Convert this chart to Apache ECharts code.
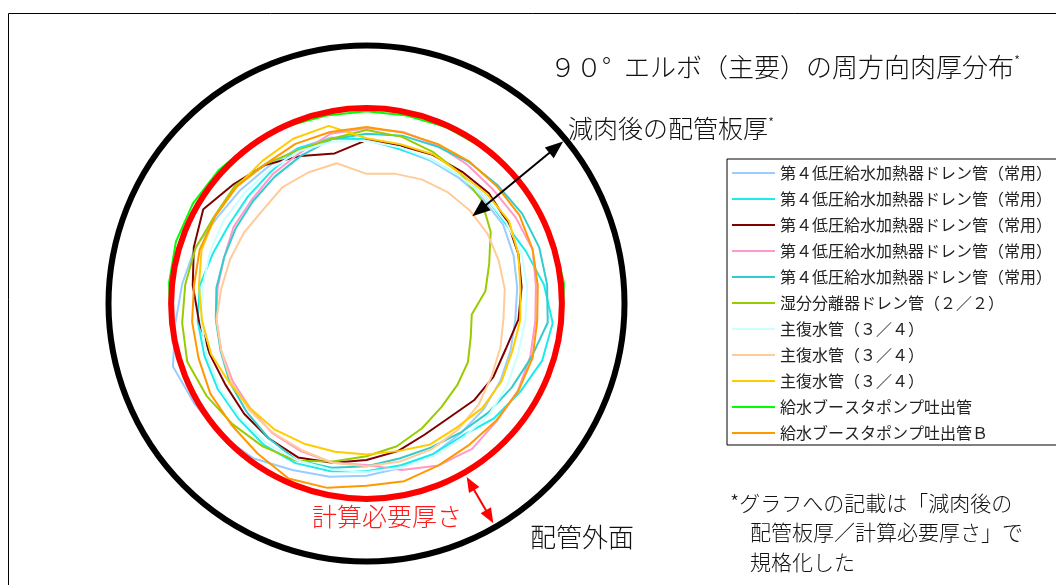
<!DOCTYPE html>
<html><head><meta charset="utf-8">
<script src="https://cdn.jsdelivr.net/npm/echarts@6/dist/echarts.min.js"></script>
<style>html,body{margin:0;padding:0;background:#fff}#c{width:1056px;height:585px}</style>
</head><body><div id="c"></div>
<script>
// Angle of each measuring point around the circumference (degrees, clockwise from top)
const angles = [0,12,24,36,48,60,72,84,96,108,120,132,144,156,168,180,192,204,216,228,240,252,264,276,288,300,312,324,336,348];

const seriesNames = [
  '第４低圧給水加熱器ドレン管（常用）',
  '第４低圧給水加熱器ドレン管（常用）',
  '第４低圧給水加熱器ドレン管（常用）',
  '第４低圧給水加熱器ドレン管（常用）',
  '第４低圧給水加熱器ドレン管（常用）',
  '湿分分離器ドレン管（２／２）',
  '主復水管（３／４）',
  '主復水管（３／４）',
  '主復水管（３／４）',
  '給水ブースタポンプ吐出管',
  '給水ブースタポンプ吐出管Ｂ'
];
const seriesColors = ['#99CCFF','#1AEBEB','#800000','#FF99CC','#33CCCC','#99CC00','#CCFFFF','#FFCC99','#FFCC00','#00FF00','#FF9900'];

// Normalized thickness (thickness after wall thinning / required thickness) at each angle
const lp1  = [1.51,1.60,1.62,1.63,1.62,1.60,1.65,1.70,1.73,1.70,1.65,1.60,1.56,1.49,1.44,1.37,1.29,1.21,1.06,0.98,0.94,0.87,1.05,1.16,1.24,1.37,1.41,1.43,1.41,1.41];
const lp2  = [1.49,1.60,1.60,1.60,1.57,1.56,1.44,1.27,1.13,1.17,1.29,1.38,1.51,1.49,1.48,1.44,1.38,1.33,1.33,1.37,1.38,1.40,1.41,1.44,1.54,1.59,1.57,1.52,1.41,1.43];
const lp3  = [1.51,1.54,1.52,1.52,1.49,1.52,1.57,1.63,1.68,1.78,1.78,1.81,1.87,1.83,1.71,1.62,1.52,1.43,1.46,1.49,1.52,1.49,1.43,1.33,1.22,1.11,1.27,1.38,1.54,1.67];
const lp4  = [1.32,1.32,1.35,1.38,1.40,1.37,1.33,1.40,1.41,1.37,1.33,1.32,1.25,1.29,1.40,1.54,1.52,1.54,1.56,1.62,1.65,1.68,1.71,1.73,1.73,1.67,1.65,1.57,1.49,1.35];
const lp5  = [1.41,1.38,1.37,1.33,1.30,1.25,1.22,1.22,1.21,1.35,1.44,1.51,1.57,1.60,1.59,1.52,1.44,1.38,1.46,1.54,1.60,1.67,1.70,1.71,1.73,1.71,1.68,1.62,1.54,1.44];
const msd  = [1.35,1.40,1.48,1.56,1.65,1.83,2.06,2.21,2.43,2.37,2.25,2.17,2.08,1.94,1.79,1.68,1.54,1.37,1.30,1.24,1.17,1.11,1.16,1.21,1.25,1.32,1.30,1.37,1.44,1.43];
const mc1  = [1.52,1.57,1.60,1.60,1.57,1.54,1.52,1.54,1.57,1.57,1.52,1.48,1.48,1.46,1.44,1.43,1.41,1.38,1.38,1.40,1.41,1.44,1.46,1.49,1.49,1.48,1.49,1.48,1.46,1.48];
const mc2  = [2.05,2.00,1.95,1.92,1.90,1.89,1.90,1.90,1.92,1.87,1.81,1.71,1.63,1.57,1.54,1.52,1.52,1.56,1.57,1.59,1.62,1.68,1.71,1.79,1.83,1.86,1.89,1.83,1.83,1.83];
const mc3  = [1.48,1.52,1.51,1.56,1.52,1.49,1.57,1.65,1.65,1.67,1.63,1.63,1.67,1.65,1.71,1.71,1.70,1.67,1.63,1.62,1.59,1.51,1.48,1.43,1.35,1.33,1.33,1.30,1.24,1.22];
const fwb  = [1.05,1.05,1.03,1.02,1.00,0.98,0.97,0.95,0.97,0.98,1.00,1.00,1.00,1.00,1.00,1.00,1.00,1.00,1.00,1.00,1.00,0.98,0.97,0.95,0.92,0.92,0.94,0.97,1.02,1.05];
const fwbB = [1.30,1.33,1.33,1.32,1.32,1.30,1.33,1.37,1.38,1.33,1.32,1.33,1.33,1.29,1.22,1.21,1.11,1.06,1.16,1.22,1.24,1.30,1.32,1.35,1.32,1.33,1.33,1.37,1.33,1.32];
const seriesValues = [lp1, lp2, lp3, lp4, lp5, msd, mc1, mc2, mc3, fwb, fwbB];

const requiredThickness = 1.0;           // 計算必要厚さ (normalized)
const radialMax = 4.12;                   // pipe centre, in normalized thickness from the outer surface
const wallArrow = [0.05, 1.93, 50.5];     // 減肉後の配管板厚 arrow: from, to, angle
const reqArrow  = [0.92, 0.07, 150];      // 計算必要厚さ arrow: from, to, angle

// unique internal names (zero-width suffix) so identical legend texts stay separate items
const uniqueNames = seriesNames.map((n, i) => n + '\u200B'.repeat(i));

const chart = echarts.init(document.getElementById('c'), null, {renderer: 'canvas'});

const lineSeries = seriesValues.map((vals, i) => ({
  type: 'line',
  name: uniqueNames[i],
  coordinateSystem: 'polar',
  symbol: 'none',
  data: angles.map((a, k) => [vals[k], a]).concat([[vals[0], 360]]),
  lineStyle: {color: seriesColors[i], width: 2},
  itemStyle: {color: seriesColors[i]},
  z: 2,
  silent: true
}));

function arrowRender(color, head, half, lw) {
  return function (params, api) {
    const ang = api.value(2);
    const a = api.coord([api.value(0), ang]);
    const b = api.coord([api.value(1), ang]);
    const dx = b[0] - a[0], dy = b[1] - a[1], L = Math.hypot(dx, dy);
    const ux = dx / L, uy = dy / L, nx = -uy, ny = ux;
    const tri = (t, d) => [
      [t[0], t[1]],
      [t[0] - d * ux * head + nx * half, t[1] - d * uy * head + ny * half],
      [t[0] - d * ux * head - nx * half, t[1] - d * uy * head - ny * half]
    ];
    return {
      type: 'group',
      children: [
        {type: 'line', shape: {x1: a[0] + ux * head * 0.7, y1: a[1] + uy * head * 0.7, x2: b[0] - ux * head * 0.7, y2: b[1] - uy * head * 0.7}, style: {stroke: color, lineWidth: lw}},
        {type: 'polygon', shape: {points: tri(b, 1)}, style: {fill: color}},
        {type: 'polygon', shape: {points: tri(a, -1)}, style: {fill: color}}
      ]
    };
  };
}

const mincho = {fontFamily: 'Noto Sans CJK JP', fontWeight: 300};

const option = {
  animation: false,
  backgroundColor: '#fff',
  textStyle: {fontFamily: 'Noto Sans CJK JP'},
  polar: {center: [366.5, 303.5], radius: 258},
  angleAxis: {
    type: 'value', min: 0, max: 360, startAngle: 90, clockwise: true,
    axisLine: {show: true, lineStyle: {color: '#000', width: 6}},
    axisTick: {show: false}, axisLabel: {show: false}, splitLine: {show: false}
  },
  radiusAxis: {
    type: 'value', min: 0, max: radialMax, inverse: true,
    axisLine: {show: false}, axisTick: {show: false}, axisLabel: {show: false}, splitLine: {show: false}
  },
  legend: {
    orient: 'vertical',
    left: 727, top: 159,
    data: uniqueNames,
    formatter: n => n.replace(/\u200B/g, ''),
    icon: 'rect',
    itemWidth: 43, itemHeight: 2, itemGap: 6,
    padding: [4, 40, 2, 5],
    borderColor: '#000', borderWidth: 1,
    selectedMode: false,
    textStyle: {fontSize: 16, lineHeight: 20, color: '#222', fontFamily: 'Noto Sans CJK JP'}
  },
  series: lineSeries.concat([
    {
      type: 'custom', name: '計算必要厚さ', coordinateSystem: 'polar', z: 5, silent: true,
      data: [[requiredThickness, 0]],
      renderItem: (params, api) => {
        const cs = params.coordSys;
        const p = api.coord([api.value(0), api.value(1)]);
        const r = Math.hypot(p[0] - cs.cx, p[1] - cs.cy);
        return {type: 'circle', shape: {cx: cs.cx, cy: cs.cy, r: r}, style: {fill: 'none', stroke: '#FF0000', lineWidth: 6}};
      }
    },
    {
      type: 'custom', name: 'wallArrow', coordinateSystem: 'polar', z: 6, silent: true,
      dimensions: ['from', 'to', 'angle'], encode: {radius: 0, angle: 2},
      data: [wallArrow],
      renderItem: arrowRender('#000', 18, 7, 2)
    },
    {
      type: 'custom', name: 'reqArrow', coordinateSystem: 'polar', z: 6, silent: true,
      dimensions: ['from', 'to', 'angle'], encode: {radius: 0, angle: 2},
      data: [reqArrow],
      renderItem: arrowRender('#FF0000', 15, 6, 2)
    }
  ]),
  graphic: [
    {type: 'rect', silent: true, z: -10, shape: {x: 8.5, y: 13.5, width: 1100, height: 700}, style: {fill: 'none', stroke: '#000', lineWidth: 1}},
    {type: 'text', x: 550, y: 67, silent: true, style: {
      text: '{m|９０°\u2002エルボ（主要）の周方向肉厚分布}{s|*}', verticalAlign: 'middle',
      rich: {m: Object.assign({fontSize: 26, fill: '#111'}, mincho), s: Object.assign({fontSize: 14, fill: '#111', verticalAlign: 'top'}, mincho)}
    }},
    {type: 'text', x: 568, y: 128, silent: true, style: {
      text: '{m|減肉後の配管板厚}{s|*}', verticalAlign: 'middle',
      rich: {m: Object.assign({fontSize: 25, fill: '#111'}, mincho), s: Object.assign({fontSize: 14, fill: '#111', verticalAlign: 'top'}, mincho)}
    }},
    {type: 'text', x: 312, y: 516, silent: true, style: Object.assign({text: '計算必要厚さ', fontSize: 25, fill: '#FF1A1A', verticalAlign: 'middle'}, mincho)},
    {type: 'text', x: 530, y: 537, silent: true, style: Object.assign({text: '配管外面', fontSize: 26, fill: '#111', verticalAlign: 'middle'}, mincho)},
    {type: 'text', x: 730, y: 503, silent: true, style: Object.assign({text: '*グラフへの記載は「減肉後の', fontSize: 21, fill: '#111', verticalAlign: 'middle'}, mincho)},
    {type: 'text', x: 750, y: 532, silent: true, style: Object.assign({text: '配管板厚／計算必要厚さ」で', fontSize: 21, fill: '#111', verticalAlign: 'middle'}, mincho)},
    {type: 'text', x: 750, y: 562, silent: true, style: Object.assign({text: '規格化した', fontSize: 21, fill: '#111', verticalAlign: 'middle'}, mincho)}
  ]
};
chart.setOption(option);
</script>
</body></html>
